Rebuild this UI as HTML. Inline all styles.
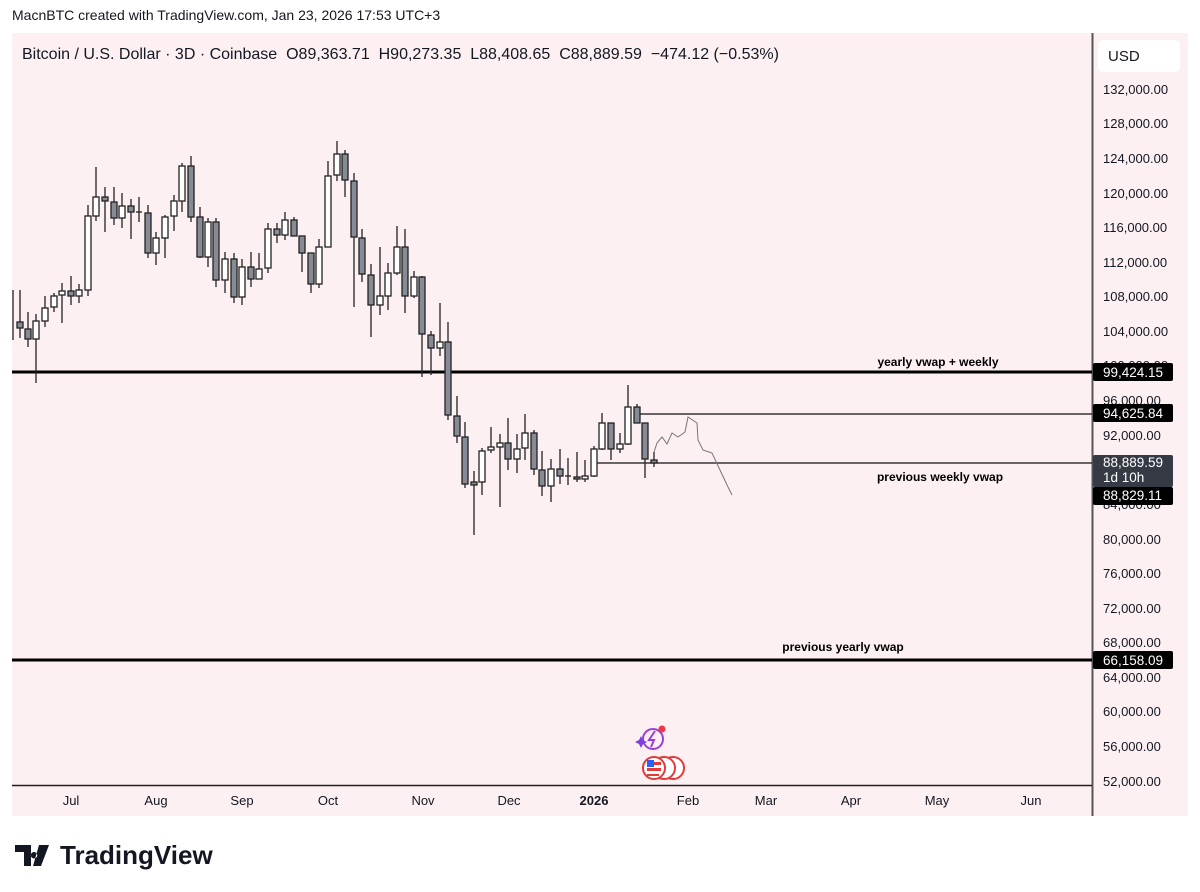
<!DOCTYPE html>
<html><head><meta charset="utf-8"><style>
body{margin:0;width:1200px;height:892px;background:#fff;font-family:"Liberation Sans",sans-serif;overflow:hidden;position:relative}
</style></head><body>
<svg width="1200" height="892" viewBox="0 0 1200 892" xmlns="http://www.w3.org/2000/svg" style="position:absolute;left:0;top:0;font-family:'Liberation Sans',sans-serif">
<text x="12" y="20" font-size="14" fill="#131722">MacnBTC created with TradingView.com, Jan 23, 2026 17:53 UTC+3</text>
<rect x="12" y="33" width="1176" height="783" fill="#fcf0f2"/>
<rect x="1098" y="40" width="82" height="32" rx="5" fill="#fff"/>
<text x="1108" y="61" font-size="15" fill="#131722">USD</text>
<line x1="1092.5" y1="33" x2="1092.5" y2="816" stroke="#555" stroke-width="2"/>
<line x1="12" y1="785.5" x2="1092" y2="785.5" stroke="#222" stroke-width="1.5"/>
<text x="22" y="59" font-size="16" fill="#131722" xml:space="preserve">Bitcoin / U.S. Dollar · 3D · Coinbase  O89,363.71  H90,273.35  L88,408.65  C88,889.59  −474.12 (−0.53%)</text>
<g font-size="13" fill="#131722">
<text x="1103" y="94">132,000.00</text><text x="1103" y="128">128,000.00</text><text x="1103" y="163">124,000.00</text><text x="1103" y="198">120,000.00</text><text x="1103" y="232">116,000.00</text><text x="1103" y="267">112,000.00</text><text x="1103" y="301">108,000.00</text><text x="1103" y="336">104,000.00</text><text x="1103" y="370">100,000.00</text><text x="1103" y="405">96,000.00</text><text x="1103" y="440">92,000.00</text><text x="1103" y="509">84,000.00</text><text x="1103" y="544">80,000.00</text><text x="1103" y="578">76,000.00</text><text x="1103" y="613">72,000.00</text><text x="1103" y="647">68,000.00</text><text x="1103" y="682">64,000.00</text><text x="1103" y="716">60,000.00</text><text x="1103" y="751">56,000.00</text><text x="1103" y="786">52,000.00</text>
</g>
<g font-size="13" fill="#131722" text-anchor="middle">
<text x="71" y="805">Jul</text><text x="156" y="805">Aug</text><text x="242" y="805">Sep</text><text x="328" y="805">Oct</text><text x="423" y="805">Nov</text><text x="509" y="805">Dec</text><text x="594" y="805" font-weight="bold">2026</text><text x="688" y="805">Feb</text><text x="766" y="805">Mar</text><text x="851" y="805">Apr</text><text x="937" y="805">May</text><text x="1031" y="805">Jun</text>
</g>
<line x1="12" y1="372" x2="1092" y2="372" stroke="#000" stroke-width="3"/>
<line x1="12" y1="660" x2="1092" y2="660" stroke="#000" stroke-width="3"/>
<line x1="637" y1="414" x2="1092" y2="414" stroke="#111" stroke-width="1.3"/>
<line x1="597" y1="463" x2="1092" y2="463" stroke="#111" stroke-width="1.3"/>
<g font-size="12" font-weight="bold" fill="#000" text-anchor="middle">
<text x="938" y="366">yearly vwap + weekly</text>
<text x="940" y="481">previous weekly vwap</text>
<text x="843" y="651">previous yearly vwap</text>
</g>
<polyline points="654,452 657,443 662,437 667,444 672,433 678,437 685,432 688,417 697,423 698,440 703,450 712,453 720,470 728,487 732,495" fill="none" stroke="#777" stroke-width="1"/>
<g stroke="#222" stroke-width="1.3">
<line x1="13" y1="290" x2="13" y2="340"/>
<line x1="20" y1="290" x2="20" y2="338"/><rect x="17" y="322" width="6" height="6" fill="#868b96"/>
<line x1="28" y1="312" x2="28" y2="347"/><rect x="25" y="329" width="6" height="10" fill="#868b96"/>
<line x1="36" y1="314" x2="36" y2="383"/><rect x="33" y="321" width="6" height="18" fill="#fff"/>
<line x1="45" y1="296" x2="45" y2="327"/><rect x="42" y="308" width="6" height="13" fill="#fff"/>
<line x1="54" y1="293" x2="54" y2="312"/><rect x="51" y="296" width="6" height="11" fill="#fff"/>
<line x1="62" y1="283" x2="62" y2="323"/><rect x="59" y="291" width="6" height="4" fill="#fff"/>
<line x1="71" y1="276" x2="71" y2="305"/><rect x="68" y="291" width="6" height="5" fill="#868b96"/>
<line x1="79" y1="284" x2="79" y2="303"/><rect x="76" y="290" width="6" height="6" fill="#fff"/>
<line x1="88" y1="205" x2="88" y2="296"/><rect x="85" y="216" width="6" height="74" fill="#fff"/>
<line x1="96" y1="167" x2="96" y2="221"/><rect x="93" y="197" width="6" height="19" fill="#fff"/>
<line x1="105" y1="187" x2="105" y2="232"/><rect x="102" y="197" width="6" height="4" fill="#868b96"/>
<line x1="114" y1="187" x2="114" y2="225"/><rect x="111" y="202" width="6" height="16" fill="#868b96"/>
<line x1="122" y1="193" x2="122" y2="228"/><rect x="119" y="206" width="6" height="12" fill="#fff"/>
<line x1="131" y1="199" x2="131" y2="239"/><rect x="128" y="206" width="6" height="6" fill="#868b96"/>
<line x1="139" y1="197" x2="139" y2="222"/><line x1="136" y1="212" x2="142" y2="212"/>
<line x1="148" y1="205" x2="148" y2="258"/><rect x="145" y="213" width="6" height="40" fill="#868b96"/>
<line x1="156" y1="232" x2="156" y2="265"/><rect x="153" y="238" width="6" height="15" fill="#fff"/>
<line x1="165" y1="215" x2="165" y2="258"/><rect x="162" y="217" width="6" height="21" fill="#fff"/>
<line x1="174" y1="195" x2="174" y2="231"/><rect x="171" y="201" width="6" height="15" fill="#fff"/>
<line x1="182" y1="163" x2="182" y2="212"/><rect x="179" y="166" width="6" height="35" fill="#fff"/>
<line x1="191" y1="156" x2="191" y2="222"/><rect x="188" y="166" width="6" height="51" fill="#868b96"/>
<line x1="200" y1="207" x2="200" y2="258"/><rect x="197" y="217" width="6" height="40" fill="#868b96"/>
<line x1="208" y1="218" x2="208" y2="267"/><rect x="205" y="222" width="6" height="35" fill="#fff"/>
<line x1="216" y1="218" x2="216" y2="287"/><rect x="213" y="222" width="6" height="58" fill="#868b96"/>
<line x1="225" y1="252" x2="225" y2="293"/><rect x="222" y="259" width="6" height="21" fill="#fff"/>
<line x1="234" y1="253" x2="234" y2="303"/><rect x="231" y="259" width="6" height="38" fill="#868b96"/>
<line x1="242" y1="259" x2="242" y2="305"/><rect x="239" y="267" width="6" height="30" fill="#fff"/>
<line x1="251" y1="252" x2="251" y2="287"/><rect x="248" y="267" width="6" height="12" fill="#868b96"/>
<line x1="259" y1="253" x2="259" y2="279"/><rect x="256" y="269" width="6" height="10" fill="#fff"/>
<line x1="268" y1="223" x2="268" y2="273"/><rect x="265" y="229" width="6" height="39" fill="#fff"/>
<line x1="277" y1="223" x2="277" y2="243"/><rect x="274" y="229" width="6" height="6" fill="#868b96"/>
<line x1="285" y1="212" x2="285" y2="240"/><rect x="282" y="220" width="6" height="15" fill="#fff"/>
<line x1="294" y1="217" x2="294" y2="236"/><rect x="291" y="220" width="6" height="16" fill="#868b96"/>
<line x1="302" y1="236" x2="302" y2="272"/><rect x="299" y="236" width="6" height="17" fill="#868b96"/>
<line x1="311" y1="253" x2="311" y2="293"/><rect x="308" y="253" width="6" height="31" fill="#868b96"/>
<line x1="319" y1="239" x2="319" y2="288"/><rect x="316" y="247" width="6" height="37" fill="#fff"/>
<line x1="328" y1="161" x2="328" y2="247"/><rect x="325" y="176" width="6" height="71" fill="#fff"/>
<line x1="337" y1="141" x2="337" y2="181"/><rect x="334" y="154" width="6" height="21" fill="#fff"/>
<line x1="345" y1="150" x2="345" y2="197"/><rect x="342" y="154" width="6" height="26" fill="#868b96"/>
<line x1="354" y1="173" x2="354" y2="307"/><rect x="351" y="181" width="6" height="56" fill="#868b96"/>
<line x1="362" y1="229" x2="362" y2="282"/><rect x="359" y="238" width="6" height="36" fill="#868b96"/>
<line x1="371" y1="264" x2="371" y2="337"/><rect x="368" y="275" width="6" height="30" fill="#868b96"/>
<line x1="380" y1="247" x2="380" y2="315"/><rect x="377" y="296" width="6" height="9" fill="#fff"/>
<line x1="388" y1="263" x2="388" y2="310"/><rect x="385" y="273" width="6" height="23" fill="#fff"/>
<line x1="397" y1="226" x2="397" y2="275"/><rect x="394" y="247" width="6" height="26" fill="#fff"/>
<line x1="405" y1="229" x2="405" y2="313"/><rect x="402" y="247" width="6" height="49" fill="#868b96"/>
<line x1="414" y1="271" x2="414" y2="298"/><rect x="411" y="277" width="6" height="19" fill="#fff"/>
<line x1="422" y1="276" x2="422" y2="377"/><rect x="419" y="277" width="6" height="57" fill="#868b96"/>
<line x1="431" y1="331" x2="431" y2="375"/><rect x="428" y="335" width="6" height="13" fill="#868b96"/>
<line x1="440" y1="303" x2="440" y2="356"/><rect x="437" y="342" width="6" height="6" fill="#fff"/>
<line x1="448" y1="322" x2="448" y2="420"/><rect x="445" y="342" width="6" height="73" fill="#868b96"/>
<line x1="457" y1="396" x2="457" y2="443"/><rect x="454" y="416" width="6" height="20" fill="#868b96"/>
<line x1="465" y1="422" x2="465" y2="488"/><rect x="462" y="437" width="6" height="47" fill="#868b96"/>
<line x1="474" y1="471" x2="474" y2="535"/><rect x="471" y="482" width="6" height="3" fill="#868b96"/>
<line x1="482" y1="448" x2="482" y2="495"/><rect x="479" y="451" width="6" height="31" fill="#fff"/>
<line x1="491" y1="427" x2="491" y2="453"/><rect x="488" y="447" width="6" height="3" fill="#fff"/>
<line x1="500" y1="434" x2="500" y2="507"/><rect x="497" y="443" width="6" height="4" fill="#fff"/>
<line x1="508" y1="418" x2="508" y2="470"/><rect x="505" y="443" width="6" height="16" fill="#868b96"/>
<line x1="517" y1="434" x2="517" y2="473"/><rect x="514" y="449" width="6" height="10" fill="#fff"/>
<line x1="525" y1="414" x2="525" y2="460"/><rect x="522" y="433" width="6" height="15" fill="#fff"/>
<line x1="534" y1="430" x2="534" y2="475"/><rect x="531" y="433" width="6" height="36" fill="#868b96"/>
<line x1="542" y1="451" x2="542" y2="496"/><rect x="539" y="470" width="6" height="16" fill="#868b96"/>
<line x1="551" y1="459" x2="551" y2="502"/><rect x="548" y="469" width="6" height="17" fill="#fff"/>
<line x1="560" y1="449" x2="560" y2="484"/><rect x="557" y="469" width="6" height="7" fill="#868b96"/>
<line x1="568" y1="458" x2="568" y2="485"/><line x1="565" y1="476" x2="571" y2="476"/>
<line x1="577" y1="452" x2="577" y2="482"/><rect x="574" y="477" width="6" height="2" fill="#868b96"/>
<line x1="585" y1="460" x2="585" y2="482"/><rect x="582" y="476" width="6" height="3" fill="#fff"/>
<line x1="594" y1="446" x2="594" y2="477"/><rect x="591" y="449" width="6" height="27" fill="#fff"/>
<line x1="602" y1="413" x2="602" y2="450"/><rect x="599" y="423" width="6" height="26" fill="#fff"/>
<line x1="611" y1="423" x2="611" y2="460"/><rect x="608" y="423" width="6" height="26" fill="#868b96"/>
<line x1="620" y1="433" x2="620" y2="453"/><rect x="617" y="444" width="6" height="5" fill="#fff"/>
<line x1="628" y1="385" x2="628" y2="445"/><rect x="625" y="407" width="6" height="37" fill="#fff"/>
<line x1="637" y1="404" x2="637" y2="423"/><rect x="634" y="407" width="6" height="16" fill="#868b96"/>
<line x1="645" y1="423" x2="645" y2="478"/><rect x="642" y="423" width="6" height="36" fill="#868b96"/>
<line x1="654" y1="452" x2="654" y2="467"/><rect x="651" y="460" width="6" height="3" fill="#868b96"/>
</g>
<g font-size="13.5" fill="#fff">
<rect x="1093" y="363" width="80" height="18" rx="2" fill="#000"/><text x="1103" y="377">99,424.15</text>
<rect x="1093" y="404" width="80" height="18" rx="2" fill="#000"/><text x="1103" y="418">94,625.84</text>
<rect x="1093" y="455" width="80" height="32" rx="2" fill="#363a45"/><text x="1103" y="467">88,889.59</text><text x="1103" y="482">1d 10h</text>
<rect x="1093" y="487" width="80" height="18" rx="2" fill="#000"/><text x="1103" y="500">88,829.11</text>
<rect x="1093" y="651" width="80" height="18" rx="2" fill="#000"/><text x="1103" y="665">66,158.09</text>
</g>
<circle cx="653" cy="739" r="10" fill="none" stroke="#9c3fd8" stroke-width="2"/>
<path d="M655 731 L649 740 L654 740 L651 747" fill="none" stroke="#9c3fd8" stroke-width="2"/>
<circle cx="662" cy="729" r="3.5" fill="#f23645"/>
<path d="M641 736 L643 740 L647 742 L643 744 L641 748 L639 744 L635 742 L639 740Z" fill="#7b3fe4"/>
<circle cx="673" cy="768" r="11" fill="#fff" stroke="#e53935" stroke-width="2"/>
<circle cx="664" cy="768" r="11" fill="#fff" stroke="#e53935" stroke-width="2"/>
<circle cx="654" cy="768" r="11" fill="#fff" stroke="#e53935" stroke-width="2"/>
<rect x="647" y="762" width="14" height="3" fill="#e53935"/><rect x="647" y="768" width="14" height="3" fill="#e53935"/><rect x="647" y="774" width="12" height="2" fill="#e53935"/>
<rect x="647" y="760" width="7" height="7" fill="#2962ff"/>
<path d="M15 845 H31 V866 H24 V852 H15Z M34 852 a3.2 3.2 0 1 0 0.1 0Z M39 845 H49 L41 866 H33Z" fill="#131722"/>
<text x="60" y="864" font-size="26" font-weight="bold" fill="#131722">TradingView</text>
</svg>
</body></html>
